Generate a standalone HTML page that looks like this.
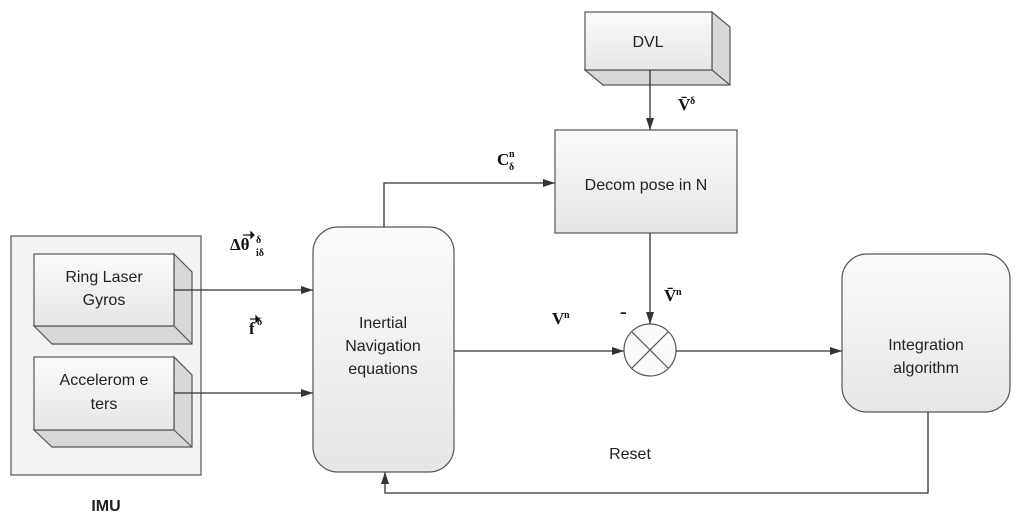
<!DOCTYPE html>
<html><head><meta charset="utf-8"><style>
body{margin:0;background:#fff;}
svg text{font-family:"Liberation Sans",sans-serif;fill:#222;}
.m{font-family:"Liberation Serif",serif;font-weight:bold;fill:#111;}
</style></head><body>
<svg width="1024" height="520" viewBox="0 0 1024 520" xmlns="http://www.w3.org/2000/svg">
<defs>
<linearGradient id="g" x1="0" y1="0" x2="0" y2="1"><stop offset="0" stop-color="#fbfbfb"/><stop offset="1" stop-color="#e6e6e6"/></linearGradient>
<marker id="a" markerWidth="12" markerHeight="8" refX="12" refY="4" orient="auto" markerUnits="userSpaceOnUse"><path d="M0,0 L12,4 L0,8 z" fill="#333"/></marker>
</defs>
<g stroke="#555" stroke-width="1.2">
<rect x="11" y="236" width="190" height="239" fill="#f3f3f3"/>
<path d="M34,326 L52,344 L192,344 L192,272 L174,254 L174,326 Z" fill="#d8d8d8"/>
<path d="M174,326 L192,344" fill="none"/>
<rect x="34" y="254" width="140" height="72" fill="url(#g)"/>
<path d="M34,430 L52,447 L192,447 L192,375 L174,357 L174,430 Z" fill="#d8d8d8"/>
<path d="M174,430 L192,447" fill="none"/>
<rect x="34" y="357" width="140" height="73" fill="url(#g)"/>
<path d="M585,70 L603,85 L730,85 L730,27 L712,12 L712,70 Z" fill="#d8d8d8"/>
<path d="M712,70 L730,85" fill="none"/>
<rect x="585" y="12" width="127" height="58" fill="url(#g)"/>
<rect x="555" y="130" width="182" height="103" fill="url(#g)"/>
<rect x="313" y="227" width="141" height="245" rx="25" fill="url(#g)"/>
<rect x="842" y="254" width="168" height="158" rx="25" fill="url(#g)"/>
<circle cx="650" cy="350" r="26" fill="#fafafa"/>
<path d="M632,332 L668,368 M668,332 L632,368" fill="none"/>
</g>
<g stroke="#333" stroke-width="1.3" fill="none">
<path d="M174,290 L313,290" marker-end="url(#a)"/>
<path d="M174,393 L313,393" marker-end="url(#a)"/>
<path d="M454,351 L624,351" marker-end="url(#a)"/>
<path d="M676,351 L842,351" marker-end="url(#a)"/>
<path d="M384,227 L384,183 L555,183" marker-end="url(#a)"/>
<path d="M650,233 L650,324" marker-end="url(#a)"/>
<path d="M650,70 L650,130" marker-end="url(#a)"/>
<path d="M928,412 L928,493 L385,493 L385,472" marker-end="url(#a)"/>
</g>
<g font-size="16" text-anchor="middle">
<text x="104" y="282">Ring Laser</text>
<text x="104" y="305">Gyros</text>
<text x="104" y="385">Accelerom e</text>
<text x="104" y="409">ters</text>
<text x="648" y="47">DVL</text>
<text x="646" y="190">Decom pose in N</text>
<text x="383" y="328">Inertial</text>
<text x="383" y="351">Navigation</text>
<text x="383" y="374">equations</text>
<text x="926" y="350">Integration</text>
<text x="926" y="373">algorithm</text>
<text x="630" y="459">Reset</text>
<text x="106" y="511" font-weight="bold">IMU</text>
</g>
<!-- small vector arrows -->
<g stroke="#111" stroke-width="1.2" fill="#111">
<path d="M243,235 L251,235" /><path d="M251,232 L254,235 L251,238Z"/>
<path d="M250,319 L256,319" /><path d="M256,316 L259,319 L256,322Z"/>
</g>
<g font-size="17">
<text class="m" x="230" y="250">Δθ</text>
<text class="m" x="256" y="243" font-size="10">δ</text>
<text class="m" x="256" y="256" font-size="10">iδ</text>
<text class="m" x="249" y="334">f</text>
<text class="m" x="257" y="325" font-size="10">δ</text>
<text class="m" x="497" y="165">C</text>
<text class="m" x="509" y="157" font-size="10">n</text>
<text class="m" x="509" y="170" font-size="10">δ</text>
<text class="m" x="678" y="110">V̄</text>
<text class="m" x="690" y="104" font-size="10">δ</text>
<text class="m" x="664" y="301">V̄</text>
<text class="m" x="676" y="295" font-size="10">n</text>
<text class="m" x="552" y="324">V</text>
<text class="m" x="564" y="318" font-size="10">n</text>
<text class="m" x="620" y="318" font-size="20">-</text>
</g>
</svg>
</body></html>
